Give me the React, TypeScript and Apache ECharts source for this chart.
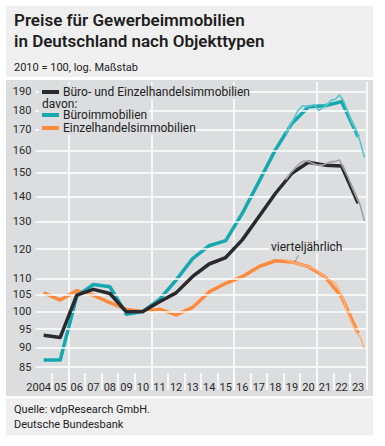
import React, { useEffect, useRef } from "react";
import * as echarts from "echarts";

const yearLabels = ["2004", "05", "06", "07", "08", "09", "10", "11", "12", "13", "14", "15", "16", "17", "18", "19", "20", "21", "22", "23"];
const yTicks = [85, 90, 95, 100, 105, 110, 120, 130, 140, 150, 160, 170, 180, 190];

// annual values (2010 = 100)
const totalAnnual = [93.3, 92.7, 104.9, 106.7, 105.4, 99.9, 100, 102.9, 105.6, 110.8, 114.9, 117.1, 123.3, 131.9, 141.2, 149.8, 154.7, 153.4, 153.0, 137.2];
const officeAnnual = [86.8, 86.8, 104.6, 108.2, 107.5, 99.2, 100, 103.6, 109.6, 116.7, 121.2, 123.0, 133.2, 146.1, 160.4, 173.3, 182.0, 182.5, 184.7, 166.7];
const retailAnnual = [105.6, 103.4, 106.3, 104.9, 102.6, 100.6, 100, 100.7, 99.0, 101.2, 105.9, 108.6, 110.7, 114.0, 116.0, 115.6, 114.0, 110.7, 104.4, 93.8];

// quarterly values 2019 Q1 – 2023 Q4
const quarterStartYearIndex = 15;
const totalQuarterly = [147, 149.5, 151.5, 153.5, 155, 155.3, 154.7, 153.8, 153.4, 153.4, 154.2, 155, 155, 155.7, 152, 148.3, 144, 140, 136.5, 130.4];
const officeQuarterly = [168, 172, 176, 180, 182.5, 182, 182.5, 183, 180, 181.5, 183, 185.5, 186, 188.4, 185, 179.4, 174, 170, 164.4, 157];
const retailQuarterly = [116.2, 115.9, 115.4, 114.9, 114.6, 114.2, 113.7, 113.2, 112.2, 111.2, 110, 109.4, 108.6, 106.2, 103.4, 99.4, 96.7, 94.2, 92.8, 89.9];

const C_TOTAL = "#2a2a2e";
const C_OFFICE = "#16a8b0";
const C_RETAIL = "#ff8a3d";
const C_TOTAL_Q = "#a2a2a4";
const C_OFFICE_Q = "#55c6cc";
const C_RETAIL_Q = "#ffb07a";
const BG_CHART = "#dcdddf";
const BG_LIGHT = "#efefef";
const FONT = "Roboto, 'Open Sans', sans-serif";

const annualPts = (arr: number[]) => arr.map((v, i) => [i + 0.5, v]);
const quarterPts = (arr: number[]) =>
  arr.map((v, k) => [quarterStartYearIndex + Math.floor(k / 4) + ((k % 4) + 0.5) / 4, v]);

export default function App() {
  const ref = useRef<HTMLDivElement>(null);
  useEffect(() => {
    if (!ref.current) return;
    const chart = echarts.init(ref.current, undefined, { renderer: "svg" });
    const lineSeries = (name: string, data: number[][], color: string, width: number, z: number) => ({
      name,
      type: "line",
      xAxisIndex: 1,
      data,
      symbol: "none",
      z,
      lineStyle: { color, width, cap: "butt", join: "round" },
      itemStyle: { color },
      silent: true,
    });
    const txt = (x: number, y: number, text: string, font: string, fill = "#222") => ({
      type: "text",
      z: 100,
      x,
      y,
      style: { text, fill, font, verticalAlign: "middle", align: "left" },
    });
    chart.setOption({
      animation: false,
      backgroundColor: "#ffffff",
      textStyle: { fontFamily: FONT },
      grid: { left: 35.4, right: 18.6, top: 82, bottom: 56, containLabel: false },
      xAxis: [
        {
          type: "category",
          data: yearLabels.map((l, i) =>
            i === 0 ? { value: l, textStyle: { padding: [0, 10, 0, 0] } } : l
          ),
          boundaryGap: true,
          axisLine: { show: false },
          axisTick: {
            show: true,
            inside: true,
            length: 17,
            interval: (index: number) => index !== 0,
            lineStyle: { color: "#ffffff", width: 1.5 },
          },
          axisLabel: {
            inside: true,
            margin: -3,
            interval: 0,
            color: "#2a2a2a",
            fontSize: 11,
            fontFamily: FONT,
          },
          splitLine: {
            show: true,
            interval: (index: number) => index % 5 === 2,
            lineStyle: { color: "#ffffff", width: 1.5 },
          },
        },
        { type: "value", min: 0, max: 20, show: false },
      ],
      yAxis: {
        type: "log",
        min: 79.5,
        max: 195.6,
        axisLine: { show: false },
        axisTick: { show: false },
        axisLabel: { show: false },
        splitLine: { show: false },
      },
      graphic: [
        { type: "rect", z: -100, shape: { x: 6, y: 6, width: 367, height: 71 }, style: { fill: BG_LIGHT } },
        { type: "rect", z: -100, shape: { x: 6, y: 80, width: 367, height: 316 }, style: { fill: BG_CHART } },
        { type: "rect", z: -100, shape: { x: 6, y: 398.5, width: 367, height: 37 }, style: { fill: BG_LIGHT } },
        txt(14, 19.5, "Preise für Gewerbeimmobilien", `600 17px ${FONT}`, "#1e1e1e"),
        txt(14, 40.5, "in Deutschland nach Objekttypen", `600 17px ${FONT}`, "#1e1e1e"),
        txt(14, 67.5, "2010 = 100, log. Maßstab", `11px ${FONT}`),
        txt(14, 409, "Quelle: vdpResearch GmbH.", `11px ${FONT}`),
        txt(14, 424, "Deutsche Bundesbank", `11px ${FONT}`),
        // legend backgrounds
        { type: "rect", z: 90, shape: { x: 39, y: 85, width: 208, height: 14 }, style: { fill: BG_CHART } },
        { type: "rect", z: 90, shape: { x: 39, y: 98, width: 44, height: 12 }, style: { fill: BG_CHART } },
        { type: "rect", z: 90, shape: { x: 39, y: 108, width: 110, height: 14 }, style: { fill: BG_CHART } },
        { type: "rect", z: 90, shape: { x: 39, y: 121, width: 153, height: 14 }, style: { fill: BG_CHART } },
        // legend swatches
        { type: "rect", z: 100, shape: { x: 42, y: 90, width: 17, height: 4 }, style: { fill: C_TOTAL } },
        { type: "rect", z: 100, shape: { x: 42, y: 113, width: 17, height: 4 }, style: { fill: C_OFFICE } },
        { type: "rect", z: 100, shape: { x: 42, y: 126, width: 17, height: 4 }, style: { fill: C_RETAIL } },
        // legend texts
        txt(63, 92, "Büro- und Einzelhandelsimmobilien", `12px ${FONT}`),
        txt(42, 104, "davon:", `12px ${FONT}`),
        txt(63, 115, "Büroimmobilien", `12px ${FONT}`),
        txt(63, 128, "Einzelhandelsimmobilien", `12px ${FONT}`),
        // annotation
        { type: "rect", z: 90, shape: { x: 269, y: 240, width: 67, height: 13 }, style: { fill: BG_CHART } },
        txt(271, 246.5, "vierteljährlich", `12px ${FONT}`),
        { type: "line", z: 100, shape: { x1: 298.5, y1: 255, x2: 295, y2: 262 }, style: { stroke: "#777", lineWidth: 0.8 } },
      ],
      series: [
        {
          type: "line",
          xAxisIndex: 1,
          data: [],
          z: 1,
          silent: true,
          markLine: {
            silent: true,
            symbol: "none",
            animation: false,
            lineStyle: { color: "#ffffff", width: 1.5, type: "solid" },
            label: {
              show: true,
              position: "start",
              distance: 4,
              color: "#2a2a2a",
              fontSize: 11,
              fontFamily: FONT,
              formatter: (p: any) => String(p.value),
            },
            emphasis: { disabled: true },
            data: yTicks.map((v) => ({ yAxis: v })),
          },
        },
        lineSeries("Einzelhandelsimmobilien", annualPts(retailAnnual), C_RETAIL, 3.5, 3),
        lineSeries("Büroimmobilien", annualPts(officeAnnual), C_OFFICE, 3.5, 4),
        lineSeries("Büro- und Einzelhandelsimmobilien", annualPts(totalAnnual), C_TOTAL, 3.5, 5),
        lineSeries("Einzelhandel vierteljährlich", quarterPts(retailQuarterly), C_RETAIL_Q, 1.6, 6),
        lineSeries("Büro vierteljährlich", quarterPts(officeQuarterly), C_OFFICE_Q, 1.6, 6),
        lineSeries("Insgesamt vierteljährlich", quarterPts(totalQuarterly), C_TOTAL_Q, 1.6, 6),
      ],
    });
    return () => chart.dispose();
  }, []);
  return <div ref={ref} style={{ position: "absolute", left: 0, top: 0, width: 385, height: 446 }} />;
}
